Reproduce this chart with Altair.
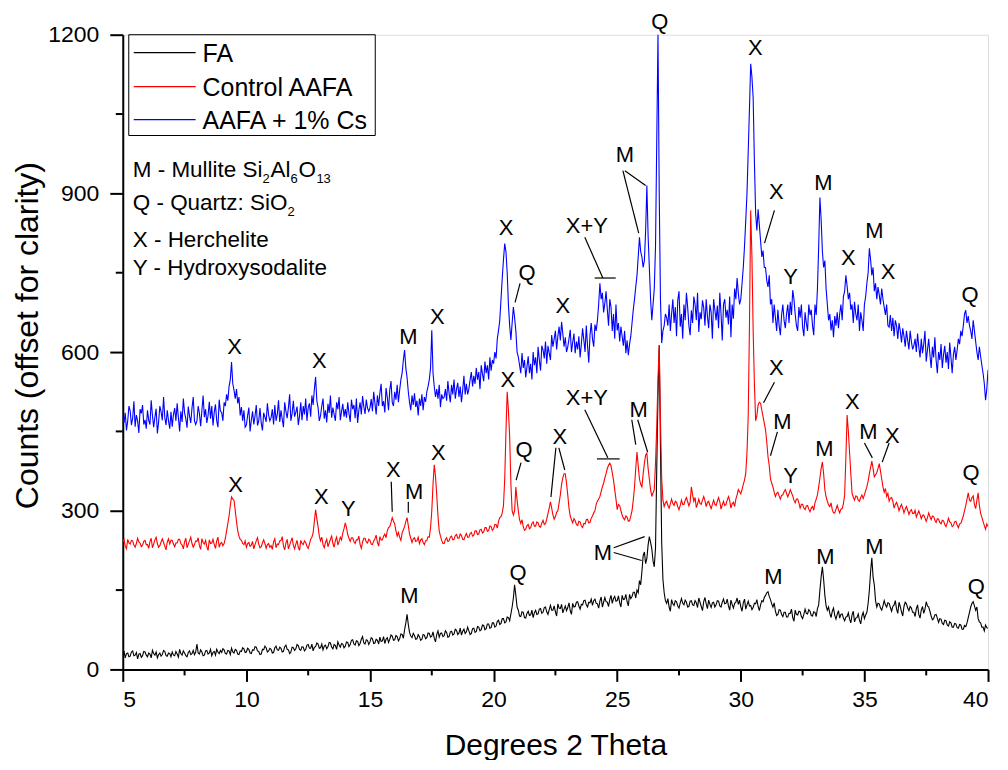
import altair as alt
import pandas as pd

# ---------------- data ----------------
START = 5.0    # first 2-theta value of the scan
STEP = 0.05    # scan step, degrees

SERIES = ["FA", "Control AAFA", "AAFA + 1% Cs"]
COLORS = ["#000000", "#ff0000", "#0000ff"]

# one row = one degree (20 steps)
fa_counts = [
    28, 35, 22, 30, 31, 24, 25, 33, 35, 26, 27, 32, 20, 29, 30, 23, 26, 34, 33, 27,
    24, 31, 29, 22, 36, 30, 27, 33, 22, 28, 31, 25, 28, 36, 34, 26, 25, 31, 30, 24,
    33, 27, 26, 34, 29, 23, 38, 30, 27, 35, 31, 26, 24, 32, 35, 28, 30, 36, 28, 33,
    48, 31, 29, 37, 33, 26, 27, 35, 36, 29, 31, 38, 26, 32, 34, 27, 38, 33, 30, 36,
    32, 39, 37, 30, 29, 36, 35, 28, 40, 33, 31, 38, 36, 29, 28, 35, 34, 41, 39, 32,
    33, 40, 38, 31, 30, 37, 36, 43, 42, 35, 34, 28, 29, 38, 37, 44, 41, 33, 35, 40,
    38, 31, 32, 41, 44, 37, 36, 42, 40, 33, 34, 43, 46, 38, 37, 30, 33, 42, 41, 36,
    39, 47, 45, 38, 36, 43, 42, 35, 38, 46, 47, 40, 40, 48, 35, 42, 43, 50, 48, 40,
    41, 48, 37, 44, 46, 39, 43, 51, 50, 42, 39, 47, 45, 38, 52, 46, 42, 49, 48, 41,
    44, 52, 51, 43, 47, 55, 56, 48, 46, 54, 53, 45, 49, 57, 62, 50, 48, 56, 55, 47,
    52, 60, 58, 49, 50, 57, 55, 48, 61, 53, 54, 62, 49, 57, 60, 51, 57, 65, 63, 55,
    56, 64, 62, 54, 58, 67, 66, 59, 75, 88, 104, 85, 70, 63, 60, 68, 64, 57, 58, 66,
    62, 55, 57, 66, 65, 58, 60, 69, 68, 61, 63, 71, 59, 52, 66, 73, 61, 68, 69, 62,
    64, 73, 70, 61, 62, 71, 72, 65, 67, 76, 74, 66, 69, 78, 65, 72, 76, 68, 71, 80,
    73, 66, 68, 77, 78, 70, 72, 81, 80, 73, 75, 84, 83, 75, 77, 86, 86, 78, 79, 88,
    88, 80, 82, 91, 93, 85, 87, 96, 96, 88, 90, 99, 98, 92, 105, 118, 135, 160, 140, 118,
    112, 101, 100, 109, 108, 98, 97, 106, 110, 102, 103, 112, 98, 107, 112, 104, 105, 114, 115, 106,
    108, 117, 118, 109, 104, 113, 121, 112, 112, 120, 109, 101, 124, 116, 115, 123, 107, 114, 120, 111,
    117, 126, 111, 104, 125, 118, 119, 127, 128, 120, 114, 123, 122, 130, 131, 122, 118, 127, 126, 133,
    121, 130, 133, 125, 124, 116, 129, 137, 118, 127, 136, 128, 127, 119, 132, 140, 125, 134, 138, 129,
    130, 139, 126, 118, 140, 132, 133, 142, 128, 120, 142, 134, 138, 146, 146, 135, 150, 145, 168, 160,
    185, 215, 222, 200, 210, 235, 251, 240, 228, 205, 194, 230, 380, 520, 613, 420, 240, 170, 145, 130,
    125, 134, 118, 110, 132, 124, 121, 130, 128, 120, 116, 126, 134, 125, 122, 131, 127, 118, 119, 129,
    130, 122, 121, 130, 126, 117, 135, 127, 119, 111, 128, 136, 124, 115, 131, 123, 117, 126, 127, 118,
    122, 130, 129, 120, 118, 127, 133, 124, 125, 133, 120, 112, 131, 123, 116, 125, 127, 135, 123, 131,
    118, 110, 126, 133, 114, 122, 129, 120, 121, 113, 117, 125, 124, 132, 119, 111, 122, 130, 128, 136,
    140, 145, 147, 138, 132, 124, 118, 126, 110, 102, 104, 113, 112, 104, 100, 108, 108, 99, 99, 106,
    106, 114, 98, 91, 112, 104, 103, 110, 109, 100, 96, 104, 114, 106, 105, 113, 110, 102, 101, 109,
    108, 100, 115, 122, 150, 175, 194, 170, 140, 120, 112, 118, 106, 98, 110, 116, 102, 95, 104, 111,
    97, 104, 105, 97, 92, 99, 100, 107, 95, 88, 103, 110, 90, 97, 98, 105, 93, 86, 101, 108,
    96, 103, 108, 125, 150, 185, 211, 175, 160, 130, 118, 125, 124, 116, 112, 120, 130, 122, 118, 126,
    125, 117, 110, 119, 122, 130, 114, 106, 127, 119, 109, 101, 119, 127, 124, 116, 111, 119, 116, 108,
    108, 100, 115, 122, 104, 97, 112, 119, 106, 114, 128, 120, 118, 110, 101, 94, 96, 103, 104, 97,
    89, 96, 95, 87, 85, 93, 92, 84, 82, 90, 88, 80, 80, 87, 86, 79, 78, 85, 84, 76,
    76, 83, 81, 88, 98, 108, 118, 125, 128, 120, 112, 118, 96, 90, 88, 80, 80, 73, 84, 79,
    78,
]

control_counts = [
    240, 246, 233, 228, 246, 239, 237, 244, 243, 235, 231, 238, 248, 241, 239, 232, 235, 242, 244, 236,
    236, 229, 242, 248, 230, 237, 245, 250, 238, 231, 234, 241, 247, 240, 233, 226, 241, 247, 237, 244,
    244, 237, 232, 239, 239, 246, 246, 238, 235, 228, 241, 248, 230, 237, 243, 250, 238, 231, 236, 243,
    242, 249, 234, 227, 247, 240, 237, 244, 232, 225, 245, 238, 239, 246, 236, 229, 243, 250, 231, 238,
    240, 234, 238, 248, 262, 276, 290, 310, 326, 322, 320, 300, 280, 262, 252, 246, 244, 238, 236, 243,
    231, 238, 240, 233, 235, 242, 228, 236, 243, 249, 237, 230, 232, 239, 245, 238, 229, 236, 238, 231,
    234, 227, 241, 247, 230, 237, 236, 243, 244, 251, 233, 226, 239, 246, 228, 235, 242, 249, 235, 228,
    237, 244, 231, 225, 244, 238, 236, 243, 240, 233, 229, 237, 246, 250, 258, 280, 302, 285, 270, 252,
    243, 250, 236, 230, 240, 246, 232, 239, 246, 252, 238, 231, 244, 250, 235, 242, 250, 245, 258, 266,
    277, 268, 255, 248, 242, 249, 249, 242, 238, 245, 245, 252, 236, 229, 241, 248, 248, 241, 239, 246,
    244, 237, 236, 243, 247, 254, 240, 233, 251, 245, 245, 252, 256, 249, 262, 268, 270, 278, 287, 280,
    275, 262, 252, 259, 250, 244, 258, 264, 270, 280, 287, 272, 256, 248, 240, 247, 249, 242, 243, 250,
    238, 245, 247, 240, 236, 243, 244, 251, 250, 268, 300, 350, 387, 365, 330, 290, 262, 252, 244, 238,
    238, 245, 249, 242, 243, 250, 252, 245, 246, 253, 255, 248, 248, 256, 253, 246, 245, 252, 257, 250,
    250, 257, 259, 252, 254, 262, 262, 255, 256, 264, 265, 258, 260, 268, 268, 261, 263, 271, 270, 263,
    266, 274, 274, 267, 280, 287, 289, 296, 310, 360, 450, 525, 490, 440, 350, 300, 292, 300, 345, 320,
    300, 283, 276, 283, 270, 263, 265, 272, 274, 266, 268, 276, 279, 271, 271, 279, 277, 270, 269, 277,
    282, 274, 276, 284, 295, 305, 317, 305, 292, 284, 289, 297, 300, 315, 330, 350, 362, 370, 370, 352,
    330, 305, 290, 283, 277, 285, 281, 274, 272, 280, 279, 271, 268, 276, 275, 283, 284, 277, 278, 286,
    290, 296, 300, 312, 318, 322, 327, 336, 345, 352, 362, 370, 380, 386, 390, 385, 372, 358, 340, 322,
    302, 312, 310, 300, 292, 286, 283, 290, 288, 280, 281, 290, 300, 320, 345, 380, 411, 385, 360, 350,
    345, 370, 390, 405, 409, 380, 360, 340, 327, 334, 340, 390, 460, 550, 613, 470, 360, 320, 308, 315,
    318, 310, 305, 313, 322, 314, 310, 318, 316, 308, 302, 310, 320, 312, 312, 320, 325, 317, 309, 316,
    345, 330, 318, 325, 306, 313, 322, 314, 312, 320, 327, 319, 308, 316, 318, 310, 304, 312, 320, 312,
    310, 318, 325, 317, 303, 311, 318, 310, 312, 320, 327, 319, 305, 313, 316, 308, 322, 330, 340, 336,
    332, 340, 350, 358, 371, 410, 480, 650, 868, 780, 640, 540, 470, 480, 500, 505, 503, 490, 478, 465,
    453, 430, 402, 385, 360, 352, 345, 335, 327, 333, 335, 328, 322, 329, 330, 336, 340, 333, 326, 332,
    340, 334, 328, 320, 315, 322, 322, 315, 305, 312, 312, 305, 302, 309, 310, 303, 298, 305, 308, 301,
    315, 322, 330, 345, 362, 380, 392, 370, 340, 326, 318, 311, 308, 315, 302, 296, 296, 303, 310, 302,
    296, 303, 304, 313, 330, 400, 481, 450, 410, 370, 333, 326, 320, 328, 327, 320, 318, 325, 330, 323,
    330, 338, 345, 356, 370, 382, 394, 380, 364, 368, 372, 380, 389, 375, 360, 345, 335, 342, 327, 333,
    318, 324, 325, 318, 305, 312, 316, 309, 300, 307, 312, 305, 296, 303, 308, 301, 293, 299, 302, 295,
    295, 301, 288, 294, 300, 293, 285, 291, 292, 286, 280, 287, 296, 289, 283, 290, 289, 282, 278, 285,
    284, 278, 275, 282, 281, 274, 270, 277, 286, 279, 277, 270, 272, 279, 280, 273, 268, 275, 276, 283,
    290, 300, 310, 322, 334, 320, 318, 325, 328, 312, 304, 320, 334, 310, 295, 288, 280, 272, 265, 275,
    270,
]

cs_counts = [
    478, 466, 485, 452, 470, 498, 489, 462, 475, 507, 459, 481, 470, 447, 492, 484, 500, 463, 472, 455,
    490, 471, 463, 509, 480, 458, 477, 493, 446, 468, 498, 487, 471, 515, 476, 462, 490, 470, 455, 487,
    459, 482, 494, 470, 503, 476, 450, 488, 468, 512, 485, 474, 457, 497, 479, 466, 494, 515, 470, 463,
    470, 498, 484, 460, 489, 518, 477, 492, 466, 480, 506, 474, 498, 461, 486, 501, 470, 458, 510, 488,
    486, 470, 505, 498, 520, 508, 535, 548, 581, 540, 528, 512, 530, 503, 515, 480, 496, 470, 490, 458,
    462, 480, 495, 450, 471, 488, 463, 479, 500, 461, 470, 494, 466, 452, 485, 477, 468, 503, 481, 470,
    476, 492, 463, 500, 470, 482, 509, 468, 490, 473, 458, 505, 488, 475, 495, 520, 470, 484, 508, 478,
    486, 497, 462, 479, 505, 471, 498, 482, 512, 470, 495, 503, 478, 518, 500, 530, 553, 508, 495, 470,
    480, 498, 512, 474, 490, 467, 502, 485, 518, 476, 495, 482, 470, 505, 492, 515, 471, 488, 502, 478,
    492, 476, 505, 484, 468, 510, 492, 500, 475, 512, 466, 490, 505, 482, 517, 497, 483, 510, 494, 488,
    495, 511, 488, 525, 503, 482, 518, 498, 522, 540, 498, 507, 486, 532, 515, 490, 528, 545, 505, 498,
    525, 510, 538, 505, 528, 548, 560, 585, 604, 570, 552, 525, 505, 490, 518, 500, 522, 496, 508, 480,
    512, 498, 520, 490, 515, 506, 525, 535, 548, 570, 641, 560, 535, 515, 530, 512, 538, 496, 520, 512,
    515, 530, 508, 545, 522, 505, 538, 520, 548, 512, 530, 542, 515, 535, 505, 528, 555, 520, 540, 520,
    530, 548, 562, 535, 555, 540, 570, 548, 562, 530, 575, 558, 545, 582, 560, 575, 548, 590, 565, 585,
    578, 600, 588, 625, 641, 660, 700, 740, 775, 805, 790, 750, 690, 650, 623, 655, 685, 665, 640, 600,
    591, 575, 560, 598, 570, 585, 552, 572, 592, 560, 578, 548, 600, 575, 590, 560, 610, 585, 565, 612,
    604, 588, 620, 578, 612, 598, 585, 632, 610, 625, 640, 605, 630, 648, 622, 657, 635, 610, 628, 600,
    610, 625, 642, 600, 618, 635, 598, 620, 605, 630, 590, 615, 645, 623, 600, 650, 612, 580, 632, 655,
    625, 610, 652, 640, 660, 690, 730, 700, 712, 675, 692, 715, 680, 650, 700, 685, 640, 672, 625, 690,
    641, 655, 620, 648, 630, 612, 640, 598, 622, 594, 615, 630, 655, 680, 700, 723, 745, 780, 817, 790,
    780, 760, 773, 830, 915, 820, 760, 700, 660, 690, 720, 800, 1000, 1202, 900, 700, 617, 640, 650, 672,
    665, 650, 690, 640, 672, 700, 655, 685, 630, 698, 715, 648, 672, 625, 690, 660, 712, 685, 650, 632,
    679, 655, 705, 690, 660, 712, 638, 675, 662, 698, 684, 650, 700, 668, 645, 690, 675, 625, 700, 680,
    660, 688, 645, 712, 672, 622, 690, 700, 665, 680, 652, 705, 628, 690, 663, 720, 700, 740, 711, 690,
    700, 730, 760, 800, 849, 900, 980, 1060, 1145, 1120, 1080, 960, 862, 830, 870, 840, 810, 780, 792, 760,
    760, 735, 723, 745, 690, 700, 655, 690, 665, 640, 680, 650, 632, 670, 690, 660, 645, 672, 690, 655,
    695, 670, 717, 700, 672, 650, 640, 685, 665, 690, 647, 630, 675, 655, 640, 690, 670, 680, 650, 632,
    690, 670, 720, 800, 892, 850, 790, 760, 773, 720, 690, 660, 672, 641, 660, 628, 668, 650, 675, 645,
    672, 690, 660, 705, 715, 745, 725, 700, 712, 680, 690, 655, 695, 672, 660, 690, 640, 675, 660, 640,
    690, 705, 730, 750, 796, 775, 745, 760, 715, 730, 700, 723, 708, 690, 720, 700, 685, 670, 690, 650,
    647, 670, 640, 665, 630, 660, 650, 625, 655, 640, 618, 645, 630, 610, 640, 622, 605, 640, 620, 605,
    612, 625, 600, 635, 610, 590, 625, 598, 615, 640, 582, 604, 625, 595, 570, 610, 590, 628, 585, 560,
    600, 585, 615, 570, 595, 612, 580, 600, 568, 618, 590, 560, 595, 610, 585, 604, 625, 615, 640, 630,
    650, 672, 679, 655, 668, 650, 640, 625, 660, 640, 620, 600, 585, 610, 592, 575, 560, 540, 509, 530,
    566,
]

# peak labels: text, 2-theta, counts
label_text = ["X", "X", "M", "X", "X", "Q", "X", "X+Y", "M", "Q", "X", "X", "Y", "M", "X", "M", "X", "Q",
              "X", "X", "Y", "X", "M", "X", "X", "Q", "X", "X+Y", "M", "X", "M", "Y", "M", "X", "M", "X", "Q",
              "M", "Q", "M", "M", "M", "M", "Q"]
label_theta = [9.52, 12.95, 16.55, 17.72, 20.50, 21.35, 22.80, 23.77, 25.31, 26.72, 30.59, 31.44, 32.01, 33.34, 34.35, 35.40, 35.96, 39.27,
               9.56, 13.03, 14.12, 15.94, 16.79, 17.76, 20.58, 21.23, 22.68, 23.77, 25.87, 31.44, 31.68, 32.01, 33.38, 34.51, 35.16, 36.13, 39.31,
               16.59, 20.99, 24.42, 31.32, 33.42, 35.40, 39.52]
label_counts = [609, 583, 628, 666, 834, 749, 687, 838, 972, 1224, 1174, 902, 742, 919, 777, 828, 751, 708,
                349, 326, 304, 377, 336, 409, 547, 415, 440, 513, 491, 570, 468, 366, 417, 506, 449, 442, 372,
                138, 183, 221, 175, 213, 232, 155]

# leader lines from labels to peaks
lead_theta = [21.07, 23.69, 24.09, 25.23, 25.31, 31.36,
              15.86, 16.55, 21.11, 22.52, 22.64, 23.69, 24.18, 25.59, 25.83, 31.36, 31.48, 35.00, 36.00,
              24.86, 24.86]
lead_counts = [730, 817, 740, 943, 943, 868,
               355, 317, 391, 419, 419, 491, 398, 472, 472, 543, 449, 428, 428,
               230, 221]
lead_theta2 = [20.87, 24.42, 24.94, 25.87, 26.15, 30.96,
               15.90, 16.55, 20.91, 22.32, 22.88, 24.62, 25.10, 25.75, 26.23, 30.92, 31.20, 35.32, 35.72,
               26.11, 25.99]
lead_counts2 = [694, 740, 740, 825, 915, 806,
                298, 296, 358, 326, 377, 400, 398, 425, 411, 504, 404, 400, 392,
                251, 206]

x_ticks = [5, 10, 15, 20, 25, 30, 35, 40]
x_minor = [7.5, 12.5, 17.5, 22.5, 27.5, 32.5, 37.5]
y_ticks = [0, 300, 600, 900, 1200]
y_minor = [150, 450, 750, 1050]

FONT = "Liberation Sans"
W, H = 867, 636


def frame(name, counts):
    return pd.DataFrame({
        "theta": [round(START + STEP * i, 3) for i in range(len(counts))],
        "counts": counts,
        "series": name,
    })


xs = alt.Scale(domain=[5, 40], nice=False, zero=False)
ys = alt.Scale(domain=[0, 1200], nice=False, zero=False)
cscale = alt.Scale(domain=SERIES, range=COLORS)

x_axis = alt.Axis(values=x_ticks, format="d", title="Degrees 2 Theta", grid=False, tickSize=12, tickWidth=2,
                  domainWidth=2, domainColor="black", tickColor="black", labelFontSize=23,
                  labelPadding=7, titleFontSize=30, titlePadding=19, titleFontWeight="normal",
                  labelFont=FONT, titleFont=FONT, labelColor="black", titleColor="black")
y_axis = alt.Axis(values=y_ticks, format="d", title="Counts (offset for clarity)", grid=False, tickSize=13,
                  tickWidth=2, domainWidth=2, domainColor="black", tickColor="black",
                  labelFontSize=23, labelPadding=11, titleFontSize=32, titlePadding=3, titleY=301,
                  titleFontWeight="normal", labelFont=FONT, titleFont=FONT,
                  labelColor="black", titleColor="black")


def X(field):
    return alt.X(field, scale=xs, axis=x_axis)


def Y(field):
    return alt.Y(field, scale=ys, axis=y_axis)


layers = []
for name, counts in zip(SERIES, [fa_counts, control_counts, cs_counts]):
    layers.append(alt.Chart(frame(name, counts)).mark_line(strokeWidth=1.1, clip=True).encode(
        x=X("theta:Q"), y=Y("counts:Q"),
        color=alt.Color("series:N", scale=cscale, legend=None)))

labels_df = pd.DataFrame({"label": label_text, "theta": label_theta, "counts": label_counts})
layers.append(alt.Chart(labels_df).mark_text(font=FONT, fontSize=22, baseline="middle", align="center",
                                             color="black").encode(
    x=X("theta:Q"), y=Y("counts:Q"), text="label:N"))

lead_df = pd.DataFrame({"t1": lead_theta, "c1": lead_counts, "t2": lead_theta2, "c2": lead_counts2})
layers.append(alt.Chart(lead_df).mark_rule(color="black", strokeWidth=1.2).encode(
    x=X("t1:Q"), y=Y("c1:Q"), x2="t2:Q", y2="c2:Q"))

# minor ticks
layers.append(alt.Chart(pd.DataFrame({"theta": x_minor})).mark_rule(color="black", strokeWidth=2).encode(
    x=X("theta:Q"), y=alt.value(H), y2=alt.value(H + 6)))
layers.append(alt.Chart(pd.DataFrame({"counts": y_minor})).mark_rule(color="black", strokeWidth=2).encode(
    y=Y("counts:Q"), x=alt.value(0), x2=alt.value(-7)))

one = pd.DataFrame({"a": [0]})
# legend box
layers.append(alt.Chart(one).mark_rect(fillOpacity=0, stroke="black", strokeWidth=1).encode(
    x=alt.value(6), x2=alt.value(253), y=alt.value(0), y2=alt.value(101)))
legend_y = [18, 52, 85]
for name, col, ly in zip(SERIES, COLORS, legend_y):
    layers.append(alt.Chart(one).mark_rule(color=col, strokeWidth=1.2).encode(
        x=alt.value(11), x2=alt.value(73), y=alt.value(ly)))
    layers.append(alt.Chart(one).mark_text(text=name, font=FONT, fontSize=25, align="left",
                                           baseline="middle", color="black").encode(
        x=alt.value(80), y=alt.value(ly + 1)))

# phase key with subscripts
key_parts = [
    ("M - Mullite Si", 10, 136, 22.5), ("2", 140, 145, 13), ("Al", 148, 136, 22.5), ("6", 168, 145, 13),
    ("O", 176, 136, 22.5), ("13", 194, 145, 13),
    ("Q - Quartz: SiO", 10, 169, 22.5), ("2", 165, 178, 13),
    ("X - Herchelite", 10, 206, 22.5),
    ("Y - Hydroxysodalite", 10, 234, 22.5),
]
for txt, px, py, fs in key_parts:
    layers.append(alt.Chart(one).mark_text(text=txt, font=FONT, fontSize=fs, align="left",
                                           baseline="middle", color="black").encode(
        x=alt.value(px), y=alt.value(py)))

chart = alt.layer(*layers).properties(
    width=W, height=H,
    autosize=alt.AutoSizeParams(type="none"),
    padding={"left": 115, "top": 26, "right": 12, "bottom": 90},
).configure_view(stroke=None).configure(font=FONT)

chart.save("out.html", embed_options={"renderer": "svg", "actions": False})
